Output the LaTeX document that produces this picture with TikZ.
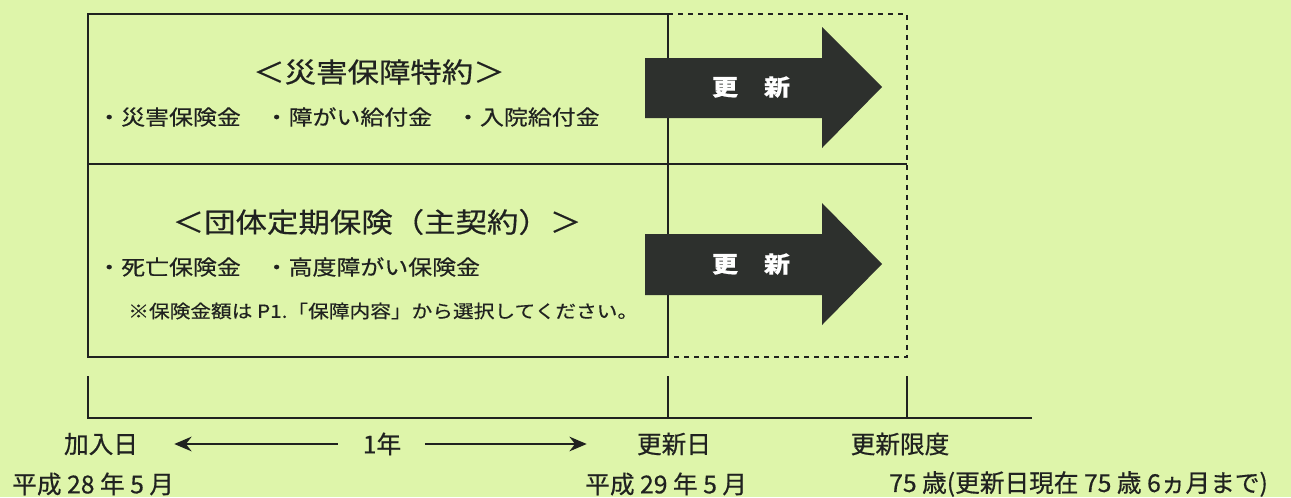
\documentclass[tikz,border=0pt]{standalone}
\usepackage{fontspec}
\setmainfont{Noto Sans CJK JP}[FakeStretch=1.15,FakeBold=0.5]
\newfontfamily\lblfont{Noto Sans CJK JP}[FakeBold=0.5]
\usepackage{tikz}
\usetikzlibrary{arrows.meta}
\definecolor{bgreen}{RGB}{222,245,170}
\definecolor{adark}{RGB}{45,48,45}
\definecolor{ink}{RGB}{32,34,32}

\begin{document}
\begin{tikzpicture}[x=0.75pt,y=-0.75pt,
  box/.style={line width=1.5pt,draw=ink},
  dash box/.style={line width=1.3pt,draw=ink,dash pattern=on 4pt off 3.5pt},
  ttl/.style={font=\fontsize{20.5}{24}\selectfont,text=ink},
  item/.style={anchor=west,inner sep=0pt,font=\fontsize{15.6}{18}\selectfont,text=ink},
  note/.style={anchor=west,inner sep=0pt,font=\fontsize{13.5}{16}\selectfont,text=ink},
  lbl/.style={inner sep=0pt,font=\lblfont\fontsize{18.5}{21}\selectfont,text=ink},
  rnw/.style={fill=adark},
  rnwtext/.style={font=\bfseries\fontsize{17}{20}\selectfont,text=white},
  span/.style={line width=1.5pt,draw=ink,-{Stealth[length=13pt,width=11pt]}}]
\fill[bgreen] (0,0) rectangle (1291,497);
\useasboundingbox (0,0) rectangle (1291,497);

% contract boxes
\draw[box] (668,14) -- (88,14) -- (88,357) -- (668,357);
\draw[box] (668,14) -- (668,357);
\draw[box] (88,164) -- (907,164);
\draw[dash box] (668,14) -- (907,14) -- (907,357) -- (668,357);

\node[ttl] (rider) at (379,72) {＜災害保障特約＞};
\node[item] (riderpay) at (97,117) {・災害保険金　・障がい給付金　・入院給付金};
\node[ttl] (mainpol) at (377,222) {＜団体定期保険（主契約）＞};
\node[item] (mainpay) at (97,267) {・死亡保険金　・高度障がい保険金};
\node[note] (choose) at (128,311) {※保険金額は P1.「保障内容」から選択してください。};

% renew arrows
\fill[rnw] (645,58) -- (822,58) -- (822,27) -- (882,87) -- (822,148) -- (822,118) -- (645,118) -- cycle;
\fill[rnw] (645,234) -- (822,234) -- (822,203) -- (882,264) -- (822,325) -- (822,295) -- (645,295) -- cycle;
\node[rnwtext] (renewa) at (751,87) {更　新};
\node[rnwtext] (renewb) at (751,264) {更　新};

% time line
\draw[box] (88,376) -- (88,418) -- (1032,418);
\draw[box] (668,376) -- (668,418);
\draw[box] (907,376) -- (907,418);

\node[lbl] (join) at (101,444) {加入日};
\node[lbl] (year) at (382,444) {1年};
\node[lbl] (renew) at (674,444) {更新日};
\node[lbl] (limit) at (900,444) {更新限度};
\node[lbl,anchor=west] (joindate) at (12,484) {平成 28 年 5 月};
\node[lbl,anchor=west] (renewdate) at (585,484) {平成 29 年 5 月};
\node[lbl,anchor=west] (agelimit) at (889,484) {75 歳(更新日現在 75 歳 6ヵ月まで)};

\draw[span,shorten <=18.5pt,shorten >=27pt] (year.west) -- (join.east);
\draw[span,shorten <=17.5pt,shorten >=37.5pt] (year.east) -- (renew.west);
\end{tikzpicture}
\end{document}
